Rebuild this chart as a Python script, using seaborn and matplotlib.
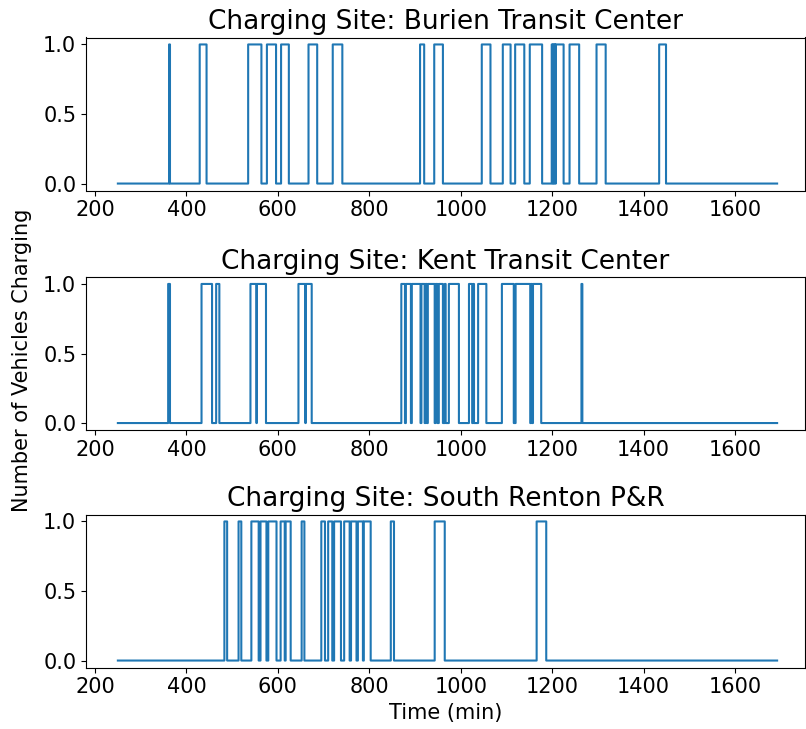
import numpy as np
import pandas as pd
import matplotlib
matplotlib.use("Agg")
import matplotlib.pyplot as plt
import seaborn as sns

# ---- data: charging intervals (start, end) in minutes ----
sites = ["Burien Transit Center", "Kent Transit Center", "South Renton P&R"]

burien_starts = [362, 429, 535, 576, 607, 667, 720, 911, 942, 1046, 1092, 1119, 1151,
                 1199, 1202, 1205, 1208, 1238, 1297, 1434]
burien_ends = [364, 444, 564, 596, 624, 686, 741, 920, 961, 1065, 1109, 1139, 1178,
               1201, 1204, 1207, 1225, 1259, 1317, 1449]

kent_starts = [360, 433, 465, 540, 554, 645, 661, 870, 880, 893, 914, 923, 928, 945,
               952, 965, 974, 1018, 1027, 1038, 1090, 1120, 1154, 1158, 1264]
kent_ends = [364, 456, 472, 553, 574, 660, 674, 878, 891, 912, 921, 926, 943, 949,
             961, 967, 996, 1025, 1029, 1056, 1116, 1152, 1156, 1176, 1266]

renton_starts = [483, 514, 542, 562, 579, 606, 617, 652, 695, 710, 723, 745, 760, 775,
                 788, 847, 943, 1166]
renton_ends = [489, 520, 558, 575, 597, 615, 628, 658, 703, 719, 738, 757, 772, 786,
               803, 854, 965, 1187]

t_start, t_end = 250, 1692
xticks = [200, 400, 600, 800, 1000, 1200, 1400, 1600]
yticks = [0.0, 0.5, 1.0]

intervals = {
    sites[0]: (burien_starts, burien_ends),
    sites[1]: (kent_starts, kent_ends),
    sites[2]: (renton_starts, renton_ends),
}

frames = []
t = np.arange(t_start, t_end + 1)
for site in sites:
    s_list, e_list = intervals[site]
    count = np.zeros_like(t, dtype=float)
    for s, e in zip(s_list, e_list):
        count += ((t >= s) & (t < e)).astype(float)
    frames.append(pd.DataFrame({"site": site, "time": t, "count": count}))
df = pd.concat(frames, ignore_index=True)

# ---- figure ----
W, H = 806, 729
fig = plt.figure(figsize=(W / 100, H / 100), dpi=100)
left_px, right_px = 86, 805
tops = [37.5, 277, 514.5]
height_px = 153

axes = []
for i, site in enumerate(sites):
    top = tops[i]
    ax = fig.add_axes([left_px / W, 1 - (top + height_px) / H,
                       (right_px - left_px) / W, height_px / H])
    sub = df[df["site"] == site]
    sns.lineplot(data=sub, x="time", y="count", ax=ax, estimator=None,
                 drawstyle="steps-post", color="#1f77b4", linewidth=1.5)
    ax.set_title(f"Charging Site: {site}", fontsize=19)
    ax.set_xlim(180.3, 1753)
    ax.set_ylim(-0.05, 1.05)
    ax.set_xticks(xticks)
    ax.set_xticklabels([str(x) for x in xticks])
    ax.set_yticks(yticks)
    ax.set_yticklabels([f"{y:.1f}" for y in yticks])
    ax.tick_params(labelsize=15)
    ax.set_xlabel("")
    ax.set_ylabel("")
    axes.append(ax)

axes[-1].set_xlabel("Time (min)", fontsize=15)
fig.text(22 / W, 1 - 360 / H, "Number of Vehicles Charging", rotation=90,
         fontsize=15, ha="center", va="center")

fig.savefig("out.png", dpi=100)
